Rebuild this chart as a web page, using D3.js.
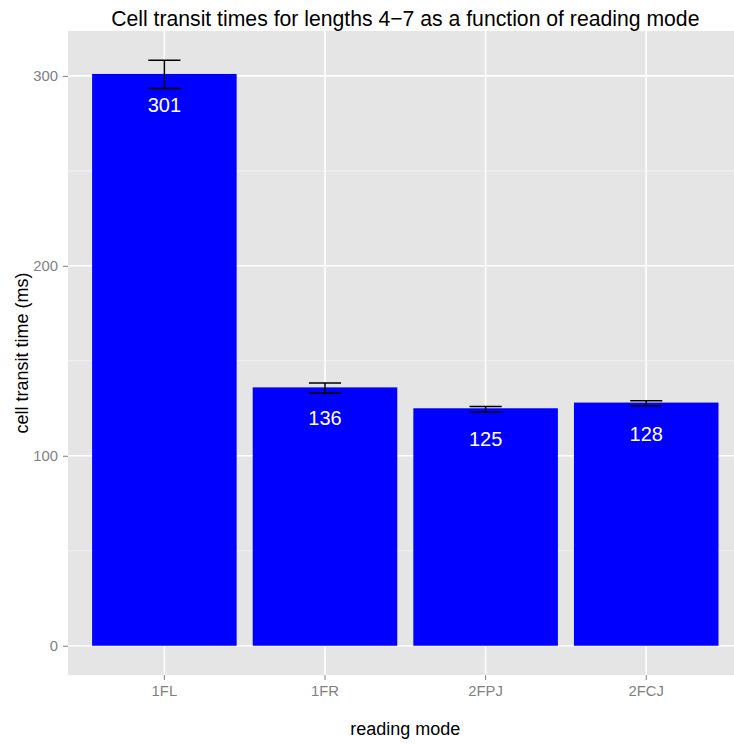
<!DOCTYPE html>
<html><head><meta charset="utf-8">
<script src="https://cdn.jsdelivr.net/npm/d3@7"></script>
<style>html,body{margin:0;padding:0;background:#fff;overflow:hidden}svg{display:block}</style>
</head><body>
<script>
const categories = ["1FL", "1FR", "2FPJ", "2FCJ"];
const values = [301, 136, 125, 128];
const errLow = [293.4, 133.1, 123.0, 126.3];
const errHigh = [308.2, 138.3, 126.0, 128.9];
const yTicks = [0, 100, 200, 300];
const yMinor = [50, 150, 250];
const title = "Cell transit times for lengths 4\u22127 as a function of reading mode";
const xLabel = "reading mode";
const yLabel = "cell transit time (ms)";

const W = 734, H = 744;
const panel = {left: 68, top: 31, right: 742.6, bottom: 675};
const font = "'Liberation Sans', Arial, Helvetica, sans-serif";

const svg = d3.select("body").append("svg").attr("width", W).attr("height", H);

const x = d3.scaleBand().domain(categories)
  .range([panel.left, panel.right]).paddingInner(0.1).paddingOuter(0.15);
const yMax = d3.max(errHigh), yMin = 0;
const ex = (yMax - yMin) * 0.05;
const y = d3.scaleLinear().domain([yMin - ex, yMax + ex]).range([panel.bottom, panel.top]);

const pw = panel.right - panel.left, ph = panel.bottom - panel.top;
svg.append("rect").attr("x", panel.left).attr("y", panel.top)
  .attr("width", pw).attr("height", ph).attr("fill", "#e5e5e5");

const g = svg.append("g");
g.selectAll(".minor").data(yMinor).join("line")
  .attr("x1", panel.left).attr("x2", panel.right)
  .attr("y1", d => y(d)).attr("y2", d => y(d))
  .attr("stroke", "#f2f2f2").attr("stroke-width", 0.8);
g.selectAll(".majory").data(yTicks).join("line")
  .attr("x1", panel.left).attr("x2", panel.right)
  .attr("y1", d => y(d)).attr("y2", d => y(d))
  .attr("stroke", "#ffffff").attr("stroke-width", 1.6);
g.selectAll(".majorx").data(categories).join("line")
  .attr("x1", d => x(d) + x.bandwidth()/2).attr("x2", d => x(d) + x.bandwidth()/2)
  .attr("y1", panel.top).attr("y2", panel.bottom)
  .attr("stroke", "#ffffff").attr("stroke-width", 1.6);

const data = categories.map((c, i) => ({c, v: values[i], lo: errLow[i], hi: errHigh[i]}));
g.selectAll(".bar").data(data).join("rect")
  .attr("x", d => x(d.c)).attr("width", x.bandwidth())
  .attr("y", d => y(d.v)).attr("height", d => y(0) - y(d.v))
  .attr("fill", "#0000ff");

const ew = x.step() * 0.2;
const eb = g.selectAll(".err").data(data).join("g")
  .attr("stroke", "#000").attr("stroke-width", 1.5).attr("fill", "none");
eb.append("line")
  .attr("x1", d => x(d.c) + x.bandwidth()/2).attr("x2", d => x(d.c) + x.bandwidth()/2)
  .attr("y1", d => y(d.lo)).attr("y2", d => y(d.hi));
eb.append("line")
  .attr("x1", d => x(d.c) + x.bandwidth()/2 - ew/2).attr("x2", d => x(d.c) + x.bandwidth()/2 + ew/2)
  .attr("y1", d => y(d.lo)).attr("y2", d => y(d.lo));
eb.append("line")
  .attr("x1", d => x(d.c) + x.bandwidth()/2 - ew/2).attr("x2", d => x(d.c) + x.bandwidth()/2 + ew/2)
  .attr("y1", d => y(d.hi)).attr("y2", d => y(d.hi));

g.selectAll(".lbl").data(data).join("text")
  .attr("x", d => x(d.c) + x.bandwidth()/2).attr("y", d => y(d.v) + 38)
  .attr("text-anchor", "middle").attr("fill", "#fff")
  .attr("font-family", font).attr("font-size", 20)
  .text(d => d.v);

const yAxis = d3.axisLeft(y).tickValues(yTicks).tickSize(5).tickPadding(5).tickFormat(d3.format("d"));
const ya = svg.append("g").attr("transform", `translate(${panel.left},0)`).call(yAxis);
ya.select(".domain").remove();
ya.selectAll("line").attr("stroke", "#7f7f7f");
ya.selectAll("text").attr("fill", "#7f7f7f").attr("font-family", font).attr("font-size", 14.8);

const xAxis = d3.axisBottom(x).tickSize(5).tickPadding(5);
const xa = svg.append("g").attr("transform", `translate(0,${panel.bottom})`).call(xAxis);
xa.select(".domain").remove();
xa.selectAll("line").attr("stroke", "#7f7f7f");
xa.selectAll("text").attr("fill", "#7f7f7f").attr("font-family", font).attr("font-size", 14.8);

const cx = (panel.left + panel.right) / 2;
svg.append("text").attr("x", cx).attr("y", 26).attr("text-anchor", "middle")
  .attr("font-family", font).attr("font-size", 21.2).attr("fill", "#000").text(title);
svg.append("text").attr("x", cx).attr("y", 735).attr("text-anchor", "middle")
  .attr("font-family", font).attr("font-size", 18).attr("fill", "#000").text(xLabel);
svg.append("text").attr("transform", `translate(28,${(panel.top + panel.bottom)/2}) rotate(-90)`)
  .attr("text-anchor", "middle")
  .attr("font-family", font).attr("font-size", 18).attr("fill", "#000").text(yLabel);
</script>
</body></html>
